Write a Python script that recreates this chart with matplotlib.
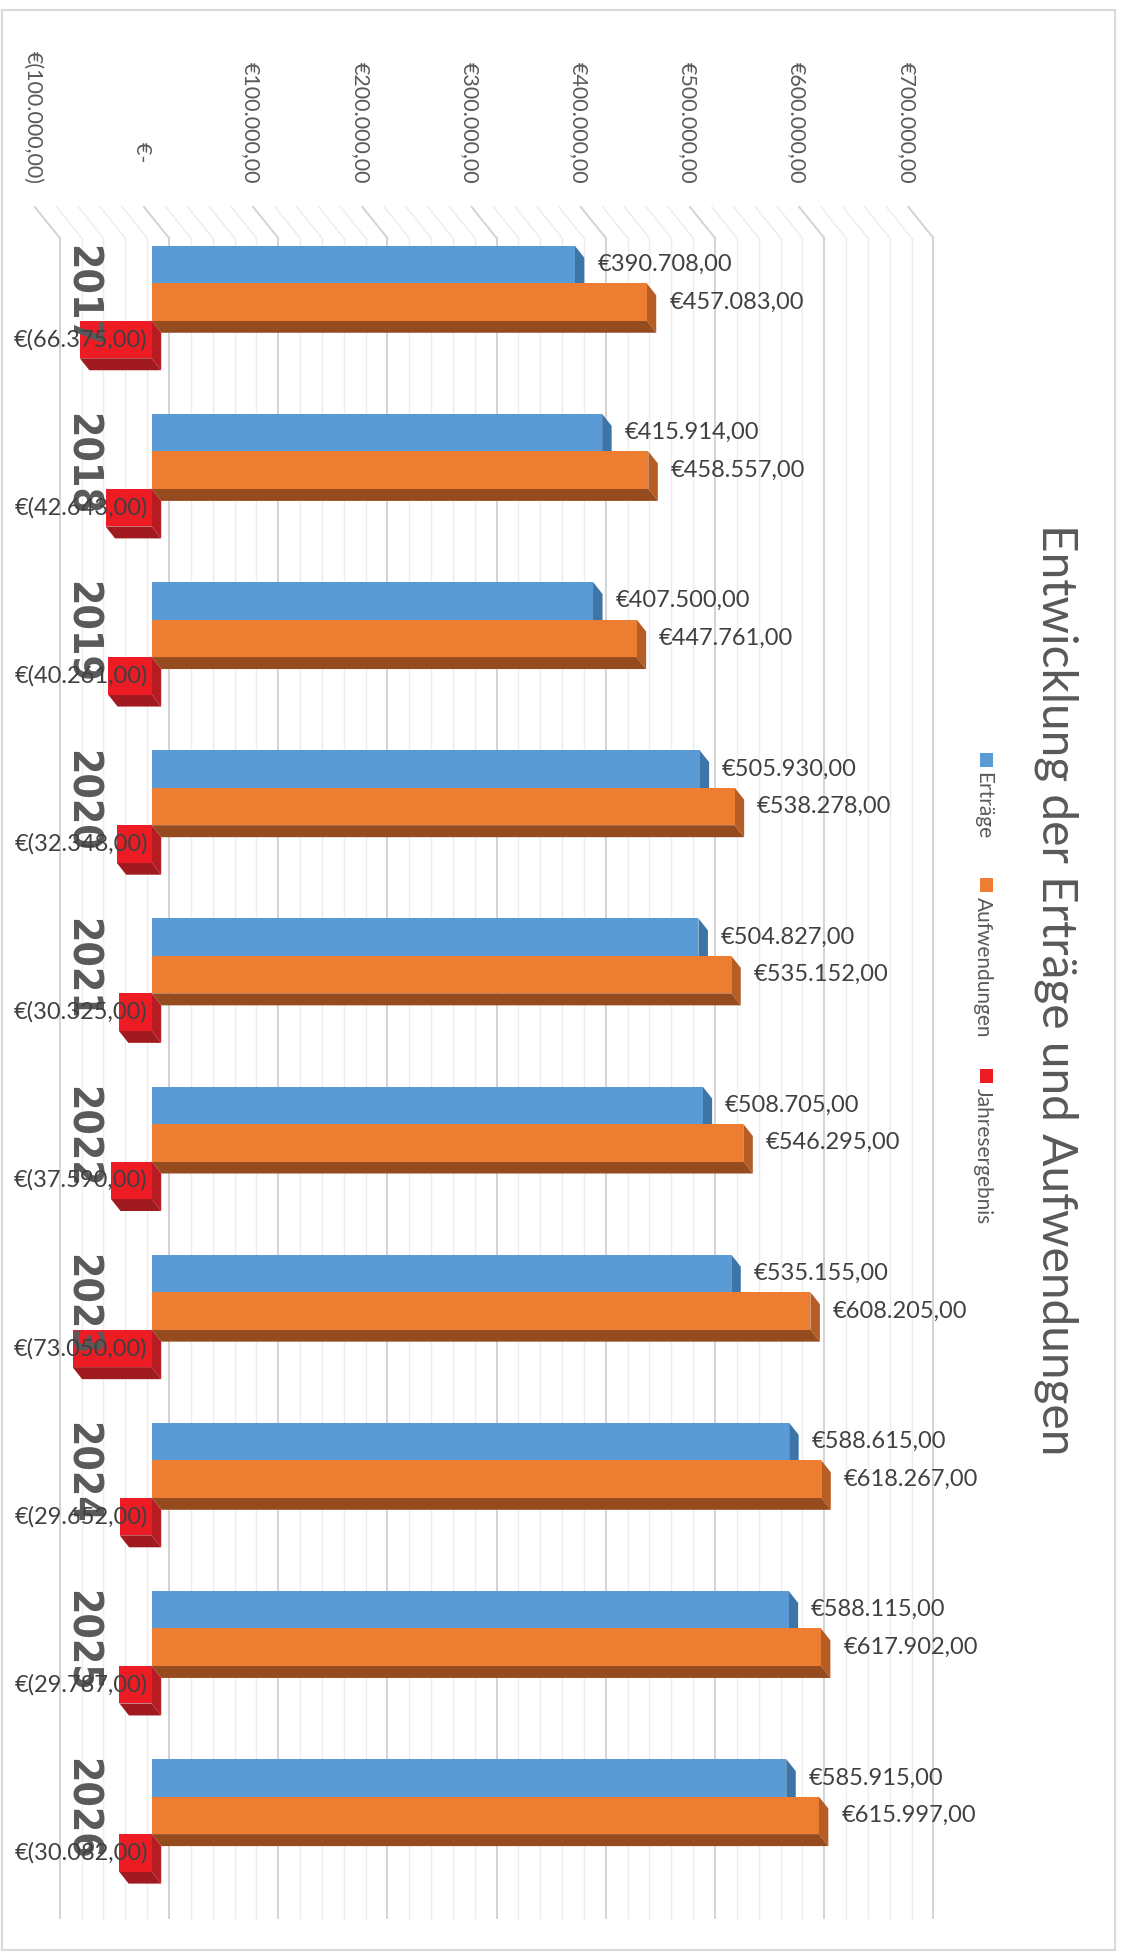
import matplotlib
matplotlib.use("Agg")
import matplotlib.pyplot as plt
from matplotlib.patches import Polygon, Rectangle

years = ["2017", "2018", "2019", "2020", "2021", "2022", "2023", "2024", "2025", "2026"]
ertraege = [390708, 415914, 407500, 505930, 504827, 508705, 535155, 588615, 588115, 585915]
aufwendungen = [457083, 458557, 447761, 538278, 535152, 546295, 608205, 618267, 617902, 615997]
jahresergebnis = [-66375, -42643, -40261, -32348, -30325, -37590, -73050, -29652, -29787, -30082]
series_names = ["Erträge", "Aufwendungen", "Jahresergebnis"]
tick_values = list(range(-100000, 700001, 100000))
title = "Entwicklung der Erträge und Aufwendungen"

# colours: front face, end face, bottom face
COLORS = [
    ("#5B9BD5", "#3E75A8", "#3E6E9C"),
    ("#ED7D31", "#B55D24", "#964B1F"),
    ("#ED1C24", "#B71C22", "#A11A1F"),
]
TEXT = "#404040"
AXIS_TEXT = "#595959"

W, H_PX = 1122, 1957
SX = 108.3 / 100000      # pixels per euro on the bar front
GRID_SX = 109.2 / 100000 # pixels per euro on the back wall
X0 = 151.7               # pixel of 0 € on bar front
GROUP = 168.15           # pixels per category
Y0 = 302.0               # pixel of first category centre


def eur(v):
    s = f"{abs(v):,.2f}".replace(",", "X").replace(".", ",").replace("X", ".")
    if v < 0:
        return f"€({s})"
    if v == 0:
        return "€-    "
    return f"€{s}"


def px_x(p):
    return p / SX


def px_y(p):
    return p / GROUP


def ypos(p):
    return (p - Y0) / GROUP


def wall_x(v):
    # back-wall position of value v, in bar-front data units
    return (17.3 + v * GRID_SX) / SX


fig = plt.figure(figsize=(W / 100, H_PX / 100), dpi=100)
ax = fig.add_axes([0, 0, 1, 1])
ax.set_xlim(-X0 / SX, (W - X0) / SX)
ax.set_ylim((H_PX - Y0) / GROUP, -Y0 / GROUP)
ax.axis("off")

# back wall grid + floor diagonals
diag = px_x(25)
y_diag, y_top, y_bot = ypos(207), ypos(238), ypos(1918)
for v in range(-100000, 700001, 20000):
    major = v % 100000 == 0
    col = "#D3D3D3" if major else "#ECECEC"
    lw = 1.4 if major else 1.0
    xw = wall_x(v)
    ax.plot([xw, xw], [y_top, y_bot], color=col, lw=lw, zorder=1)
    ax.plot([xw - diag, xw], [y_diag, y_top], color=col, lw=lw, zorder=1)

for v in tick_values:
    ax.text(wall_x(v) - diag - px_x(2), ypos(184), eur(v), rotation=-90,
            rotation_mode="anchor", ha="right", va="center",
            fontsize=15.5, family="Lato", color=AXIS_TEXT)

BH = px_y(37.5)
DX, DY = px_x(9.5), px_y(12)


def bar3d(yc, v, cols, z):
    x0, x1 = min(0, v), max(0, v)
    top, bot = yc - BH / 2, yc + BH / 2
    front, side, bottom = cols
    ax.add_patch(Polygon([(x0, bot), (x1, bot), (x1 + DX, bot + DY), (x0 + DX, bot + DY)],
                         closed=True, fc=bottom, ec="none", zorder=z))
    ax.add_patch(Polygon([(x1, top), (x1 + DX, top + DY), (x1 + DX, bot + DY), (x1, bot)],
                         closed=True, fc=side, ec="none", zorder=z))
    ax.add_patch(Rectangle((x0, top), x1 - x0, BH, fc=front, ec="none", zorder=z + 0.1))


year_texts = []
for c in range(len(years)):
    vals = [ertraege[c], aufwendungen[c], jahresergebnis[c]]
    for k, v in enumerate(vals):
        yc = c + (k - 1) * BH
        bar3d(yc, v, COLORS[k], 2 + k * 0.3)
        if v >= 0:
            ax.text(v + DX + px_x(13), yc, eur(v), ha="left", va="center",
                    fontsize=17, family="Lato", color=TEXT, zorder=6)
        else:
            ax.text(px_x(-4), yc, eur(v), ha="right", va="center",
                    fontsize=17, family="Lato", color=TEXT, zorder=6)
    year_texts.append(ax.text((70 - X0) / SX, c - px_y(6), years[c], rotation=-90,
                              rotation_mode="anchor", ha="center", va="baseline",
                              fontsize=30, weight="bold", family="DejaVu Sans",
                              stretch="condensed", color=AXIS_TEXT, zorder=5))

# legend
leg_y = [753, 878, 1069]
for k, name in enumerate(series_names):
    fig.patches.append(Rectangle((980 / W, 1 - (leg_y[k] + 14) / H_PX), 13 / W, 14 / H_PX,
                                 transform=fig.transFigure, fc=COLORS[k][0], ec="none"))
    fig.text(977 / W, 1 - (leg_y[k] + 19) / H_PX, name, rotation=-90, rotation_mode="anchor",
             ha="left", va="baseline", fontsize=15, family="Lato", color=AXIS_TEXT)

# title
t = fig.text(1043 / W, 1 - 990 / H_PX, title, rotation=-90, rotation_mode="anchor",
             ha="center", va="baseline", fontsize=34, family="Lato", color=AXIS_TEXT)

# fit title and year labels to their lengths in the reference
fig.canvas.draw()
t.set_fontsize(34 * 935 / t.get_window_extent().height)
yl = year_texts[0].get_window_extent().height
for yt in year_texts:
    yt.set_fontsize(30 * 102 / yl)

fig.patches.append(Rectangle((2 / W, 1 - 1950 / H_PX), 1113 / W, 1940 / H_PX,
                             transform=fig.transFigure, fill=False, ec="#D9D9D9", lw=1.5))

fig.savefig("out.png", dpi=100, facecolor="white")
